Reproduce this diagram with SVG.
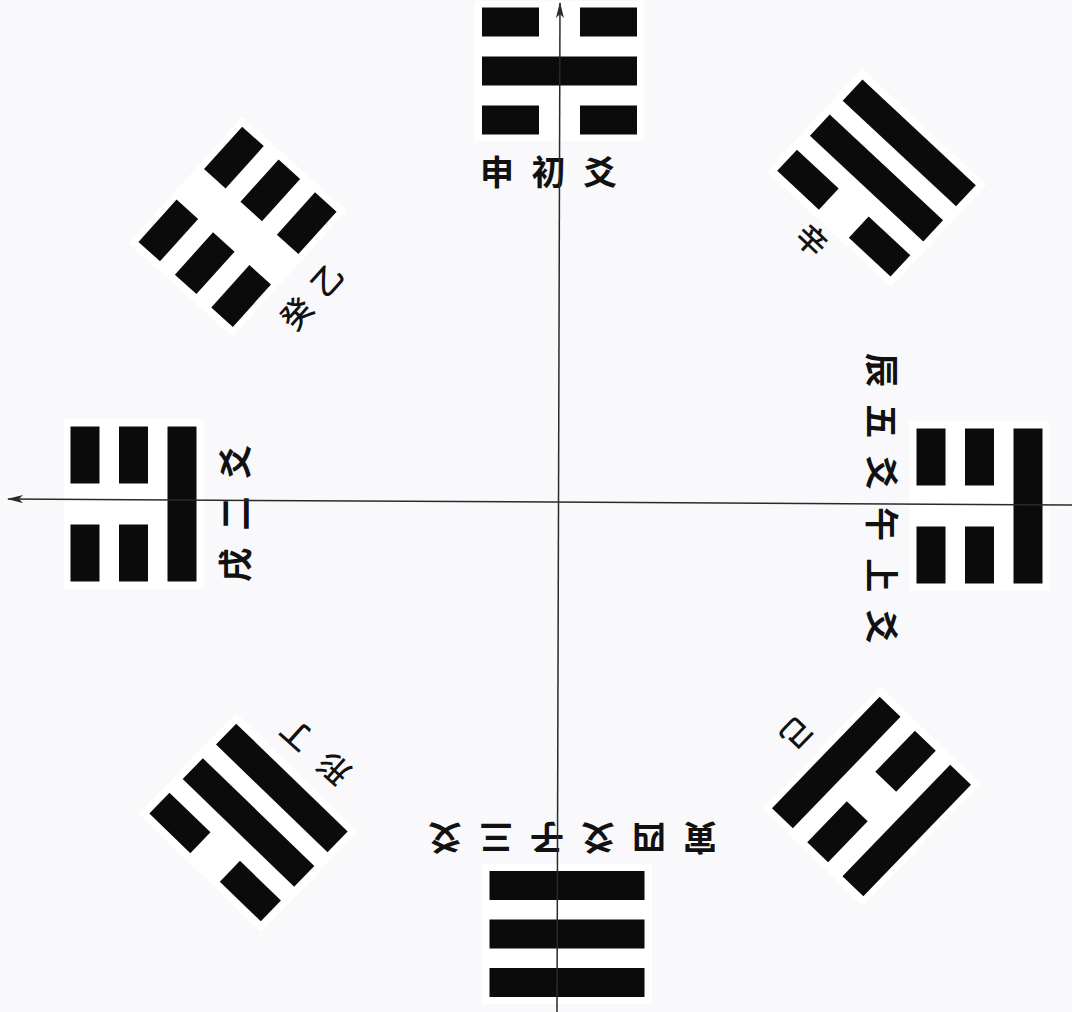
<svg xmlns="http://www.w3.org/2000/svg" width="1072" height="1012" viewBox="0 0 1072 1012">
<style>
.bg{fill:#ffffff}
.bar{fill:#0b0b0b}
.lbl{font-family:"Noto Sans CJK SC","Noto Sans CJK TC",sans-serif;font-size:34px;font-weight:700;fill:#111}
.sm{font-size:31px;font-weight:500}
.axis{stroke:#2a2a2a;stroke-width:1.5;fill:none}
</style>
<defs>
<marker id="arr" viewBox="0 0 16 8" refX="15" refY="4" markerWidth="16" markerHeight="8" markerUnits="userSpaceOnUse" orient="auto">
<path d="M0,0 L16,4 L0,8 L4,4 z" fill="#2a2a2a"/>
</marker>
<g id="solid"><rect class="bar" x="-77.5" y="-14.5" width="155" height="29"/></g>
<g id="broken"><rect class="bar" x="-77.5" y="-14.5" width="57" height="29"/><rect class="bar" x="20.5" y="-14.5" width="57" height="29"/></g>
</defs>
<rect x="0" y="0" width="1072" height="1012" fill="#f9f9fb"/>

<g id="trigram-top">
<g transform="translate(559.5,71)">
<rect class="bg" x="-85" y="-70" width="170" height="140"/>
<use href="#broken" y="-49"/><use href="#solid" y="0"/><use href="#broken" y="49"/>
</g>
<text class="lbl" transform="translate(480,171.5)" y="13" letter-spacing="17.5">申初爻</text>
</g>

<g id="trigram-top-right">
<g transform="translate(876.5,178) rotate(43)">
<rect class="bg" x="-85" y="-70" width="170" height="140"/>
<use href="#solid" y="-48"/><use href="#solid" y="0"/><use href="#broken" y="48"/>
</g>
<text class="lbl sm" transform="translate(812,240) rotate(43)" y="11.8" text-anchor="middle">辛</text>
</g>

<g id="trigram-right">
<g transform="translate(979.5,506) rotate(90)">
<rect class="bg" x="-85" y="-70" width="170" height="140"/>
<use href="#solid" y="-48.5"/><use href="#broken" y="0"/><use href="#broken" y="48.5"/>
</g>
<text class="lbl" transform="translate(882,353) rotate(90)" y="13" letter-spacing="17.3">辰五爻午上爻</text>
</g>

<g id="trigram-bottom-right">
<g transform="translate(871.5,796.5) rotate(134)">
<rect class="bg" x="-85" y="-70" width="170" height="140"/>
<use href="#solid" y="-49"/><use href="#broken" y="0"/><use href="#solid" y="49"/>
</g>
<text class="lbl sm" transform="translate(797,733) rotate(134)" y="11.8" text-anchor="middle">己</text>
</g>

<g id="trigram-bottom">
<g transform="translate(567,934) rotate(180)">
<rect class="bg" x="-85" y="-70" width="170" height="140"/>
<use href="#solid" y="-48.5"/><use href="#solid" y="0"/><use href="#solid" y="48.5"/>
</g>
<text class="lbl" transform="translate(717,838) rotate(180)" y="13" letter-spacing="17">寅四爻子三爻</text>
</g>

<g id="trigram-bottom-left">
<g transform="translate(248.5,822.5) rotate(-136)">
<rect class="bg" x="-85" y="-70" width="170" height="140"/>
<use href="#broken" y="-48"/><use href="#solid" y="0"/><use href="#solid" y="48"/>
</g>
<text class="lbl sm" transform="translate(344.9,778.7) rotate(-138)" y="11.8" letter-spacing="19">形丁</text>
</g>

<g id="trigram-left">
<g transform="translate(133.5,504) rotate(-90)">
<rect class="bg" x="-85" y="-70" width="170" height="140"/>
<use href="#broken" y="-48.5"/><use href="#broken" y="0"/><use href="#solid" y="48.5"/>
</g>
<text class="lbl" transform="translate(235,582) rotate(-90)" y="13" letter-spacing="17.5">戌二爻</text>
</g>

<g id="trigram-top-left">
<g transform="translate(237.5,226.8) rotate(-48)">
<rect class="bg" x="-85" y="-70" width="170" height="140"/>
<use href="#broken" y="-49"/><use href="#broken" y="0"/><use href="#broken" y="49"/>
</g>
<text class="lbl sm" transform="translate(286.3,324.9) rotate(-48)" y="11.8" letter-spacing="14">癸乙</text>
</g>

<g id="connectors">
<path class="axis" d="M557,1012 L560,3" marker-end="url(#arr)"/>
<path class="axis" d="M1072,505 L8,499" marker-end="url(#arr)"/>
</g>
</svg>
